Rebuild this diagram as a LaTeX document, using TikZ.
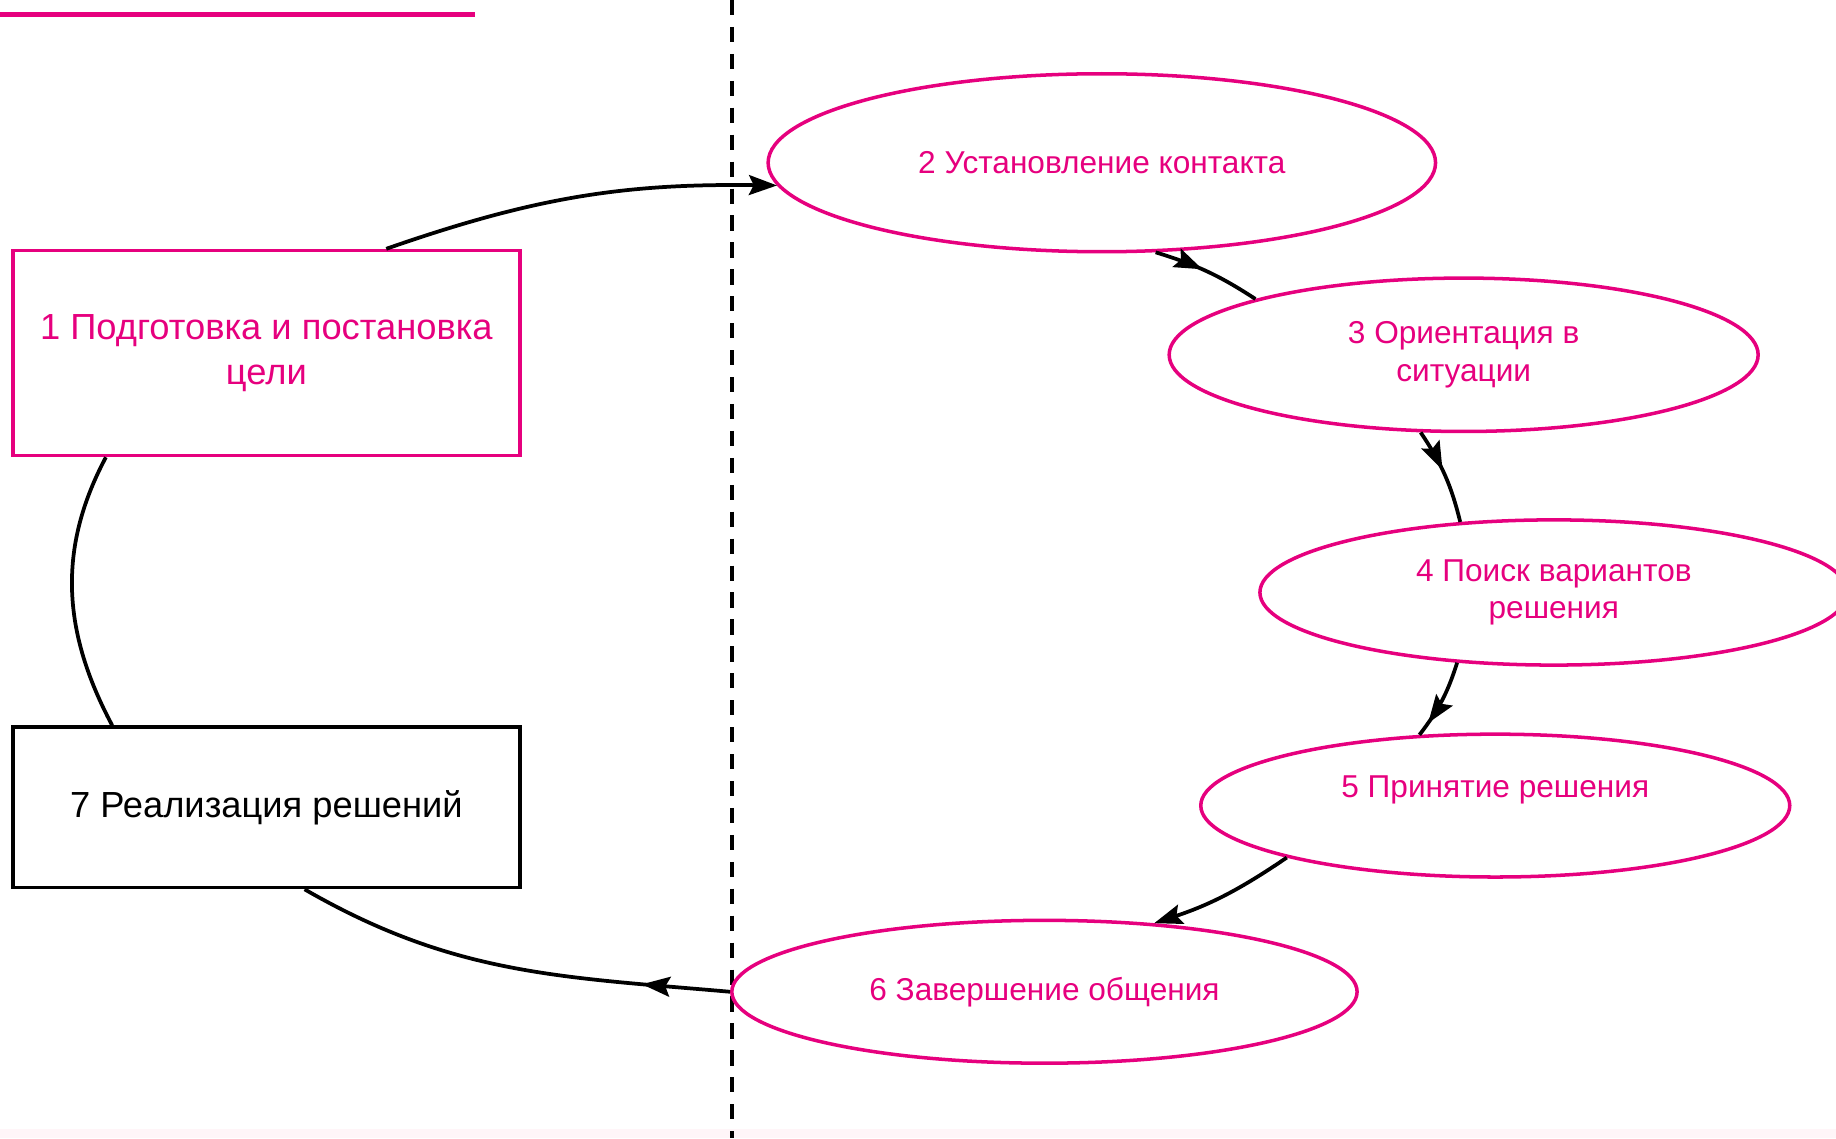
\documentclass[tikz,border=0pt]{standalone}
\usepackage{fontspec}
\setmainfont{Liberation Sans}
\usetikzlibrary{arrows.meta, calc, shapes, positioning, decorations.markings}
\definecolor{stagepink}{HTML}{E6007E}
\definecolor{bottomtint}{HTML}{FFF5F8}

\begin{document}
\begin{tikzpicture}[x=1pt, y=1pt,
	stage/.style={ellipse, draw=stagepink, line width=3pt, text=stagepink, font=\fontsize{27}{32}\selectfont, align=center, inner sep=0pt},
	phase/.style={rectangle, line width=3pt, font=\fontsize{31}{38}\selectfont, align=center, minimum width=433pt, inner sep=0pt},
	flow/.style={line width=3.2pt, -{Stealth[length=24pt, width=17pt, inset=4pt]}},
	midflow/.style={line width=3.2pt, postaction={decorate}, decoration={markings, mark=at position #1 with {\arrow{Stealth[length=24pt, width=17pt, inset=4pt]}}}}]
			\useasboundingbox (0,0) rectangle (1568,972);
			\fill[bottomtint] (0,0) rectangle (1568,8);
			
			% Accent line and divider
			\draw[stagepink, line width=4.3pt] (0,960) -- (406,960);
			\draw[line width=3.2pt, dash pattern=on 13pt off 10pt] (625,972) -- (625,0);
			
			% Goal and result
			\node[phase, draw=stagepink, text=stagepink, minimum height=175pt] (goal) at (227.5,670.5) {1 Подготовка и постановка\\цели};
			\node[phase, draw=black, minimum height=137pt] (result) at (227.5,282.5) {7 Реализация решений};
			
			% Stages
			\node[stage, minimum width=570pt, minimum height=152pt] (contact) at (941,833) {2 Установление контакта};
			\node[stage, minimum width=503pt, minimum height=131pt] (orient) at (1250,669) {3 Ориентация в\\ситуации};
			\node[stage, minimum width=502pt, minimum height=124pt] (search) at (1327,466) {4 Поиск вариантов\\решения};
			\node[stage, minimum width=503pt, minimum height=122pt] (choice) at (1277,284) {5 Принятие решения\\\mbox{}};
			\node[stage, minimum width=534pt, minimum height=122pt] (finish) at (892,125) {6 Завершение общения};
			
			% Cycle
			\draw[flow] (goal.41) to[bend left=10] (contact.184);
			\draw[midflow=0.45] (contact.301) to[bend left=8] (orient.165);
			\draw[midflow=0.44] (orient.241) to[bend left=10] (search.143);
			\draw[midflow=0.82] (search.216) to[bend left=10] (choice.137);
			\draw[flow] (choice.194) to[bend left=8] (finish.32);
			\draw[midflow=0.2] (finish.west) to[out=175, in=-30] (result.295);
			\draw[line width=3.2pt] (result.152) to[out=118, in=-118] (goal.213);
		\end{tikzpicture}
\end{document}
